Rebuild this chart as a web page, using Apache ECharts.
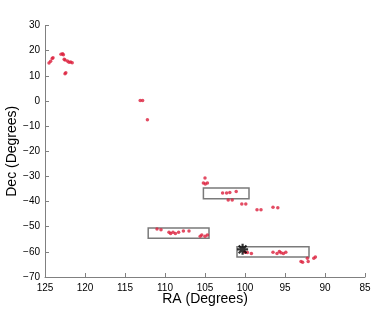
<!DOCTYPE html>
<html>
<head>
<meta charset="utf-8">
<script src="https://cdn.jsdelivr.net/npm/echarts@6/dist/echarts.min.js"></script>
<style>html,body{margin:0;padding:0;background:#fff}#c{width:374px;height:311px}</style>
</head>
<body>
<div id="c"></div>
<script>
// Tick labels
const xTicks = [125, 120, 115, 110, 105, 100, 95, 90, 85];
const yTicks = [30, 20, 10, 0, -10, -20, -30, -40, -50, -60, -70];

// Red observation points (RA, Dec in degrees)
const pointRA = [
  124.5, 124.3, 124.1, 124.0,
  123.0, 122.8, 122.7,
  122.6, 122.5,
  122.2, 122.0, 121.8, 121.6,
  122.5, 122.4,
  113.1, 112.8, 112.2,
  105.0, 105.2, 104.96, 104.7,
  102.8, 102.3, 101.9, 101.1,
  102.1, 101.6,
  100.4, 99.9,
  98.5, 98.0,
  96.5, 95.9,
  111.0, 110.5,
  109.5, 109.3, 109.0, 108.7, 108.3, 107.7, 107.0,
  105.6, 105.4, 105.0, 104.7,
  100.0, 99.7, 99.2,
  96.5, 96.0, 95.7, 95.5, 95.2, 94.9,
  93.0, 92.8, 92.1, 92.2, 91.4, 91.2
];
const pointDec = [
  15.1, 15.8, 16.9, 17.2,
  18.6, 18.8, 18.4,
  16.6, 16.3,
  15.9, 15.4, 15.5, 15.2,
  10.8, 11.2,
  0.2, 0.2, -7.5,
  -30.6, -32.6, -33.0, -32.6,
  -36.6, -36.6, -36.4, -36.0,
  -39.4, -39.4,
  -41.0, -41.0,
  -43.3, -43.3,
  -42.3, -42.5,
  -50.9, -51.2,
  -52.2, -52.7, -52.2, -52.7, -52.2, -51.7, -51.7,
  -53.8, -53.3, -53.8, -53.3,
  -60.2, -60.3, -60.7,
  -60.2, -60.7, -59.9, -60.4, -60.7, -60.2,
  -63.8, -64.1, -63.8, -62.5, -62.5, -62.0
];

// Rectangles: [RA start, RA end] and [Dec top, Dec bottom]
const boxRA = [[105.2, 99.5], [112.1, 104.5], [101.0, 92.0]];
const boxDec = [[-34.6, -38.9], [-50.5, -54.6], [-58.0, -62.0]];

// Asterisk marker
const starRA = [100.3];
const starDec = [-59.0];

const pts = pointRA.map((r, i) => [r, pointDec[i]]);
const star = starRA.map((r, i) => [r, starDec[i]]);
const areas = boxRA.map((r, i) => [
  { coord: [r[0], boxDec[i][0]] },
  { coord: [r[1], boxDec[i][1]] }
]);

const asterisk = 'path://M-1.2,-6L1.2,-6L1.2,6L-1.2,6Z M-6,-1.2L6,-1.2L6,1.2L-6,1.2Z M-5.1,-3.4L-3.4,-5.1L5.1,3.4L3.4,5.1Z M3.4,-5.1L5.1,-3.4L-3.4,5.1L-5.1,3.4Z';
const fmt = v => String(v).replace('-', '\u2212');
const font = 'Liberation Sans, Arial, Helvetica, sans-serif';

const chart = echarts.init(document.getElementById('c'), null, { renderer: 'canvas' });
chart.setOption({
  animation: false,
  backgroundColor: '#fff',
  grid: { left: 45, right: 9, top: 25.5, bottom: 34, containLabel: false, outerBoundsMode: 'none' },
  xAxis: {
    type: 'value', min: 85, max: 125, interval: 5, inverse: true,
    name: 'RA (Degrees)', nameLocation: 'middle', nameGap: 15, nameMoveOverlap: false,
    nameTextStyle: { color: '#000', fontSize: 14, fontFamily: font, verticalAlign: 'top' },
    axisLine: { show: true, onZero: false, lineStyle: { color: '#808080', width: 1 } },
    axisTick: { show: true, inside: true, length: 4, lineStyle: { color: '#808080' } },
    axisLabel: { color: '#000', fontSize: 10, fontFamily: font, margin: 6, formatter: fmt, showMinLabel: true, showMaxLabel: true },
    splitLine: { show: false }
  },
  yAxis: {
    type: 'value', min: -70, max: 30, interval: 10,
    name: 'Dec (Degrees)', nameLocation: 'middle', nameGap: 26, nameMoveOverlap: false,
    nameTextStyle: { color: '#000', fontSize: 14, fontFamily: font },
    axisLine: { show: true, onZero: false, lineStyle: { color: '#808080', width: 1 } },
    axisTick: { show: true, inside: true, length: 4, lineStyle: { color: '#808080' } },
    axisLabel: { color: '#000', fontSize: 10, fontFamily: font, margin: 5, formatter: fmt, showMinLabel: true, showMaxLabel: true },
    splitLine: { show: false }
  },
  series: [
    {
      type: 'scatter', data: pts, symbol: 'circle', symbolSize: 3.5,
      itemStyle: { color: '#dc1f3c' },
      markArea: {
        silent: true,
        itemStyle: { color: 'rgba(0,0,0,0)', borderColor: '#7a7a7a', borderWidth: 1.5 },
        data: areas
      },
      z: 3
    },
    {
      type: 'scatter', data: star, symbol: asterisk, symbolSize: 11,
      itemStyle: { color: '#000' }, z: 4
    }
  ]
});
</script>
</body>
</html>
